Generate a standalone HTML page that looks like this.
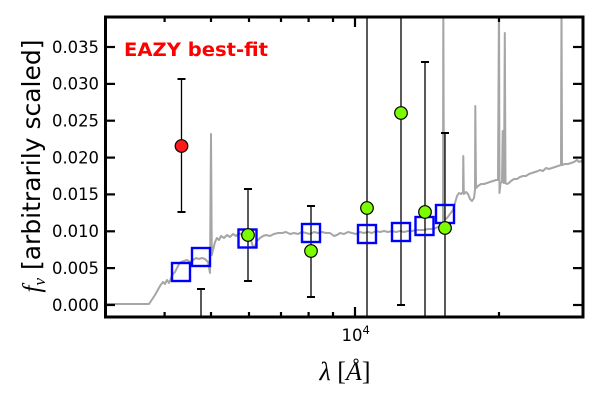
<!DOCTYPE html>
<html><head><meta charset="utf-8"><style>
html,body{margin:0;padding:0;background:#fff;}
svg{display:block;}
</style></head><body>
<svg width="600" height="400" viewBox="0 0 600 400" xmlns="http://www.w3.org/2000/svg">
<defs><clipPath id="ax"><rect x="105" y="17" width="478" height="300"/></clipPath></defs>
<rect width="600" height="400" fill="#fff"/>
<g clip-path="url(#ax)">
<polyline fill="none" stroke="#a6a6a6" stroke-width="2" stroke-linejoin="round" points="105,304 149,304 155,295 160,286 163,282 165,284 167,280 169,283 171,278 173,274 175,272 177,268 179,264 181,262 184,261 187,260 190,262 193,260 196,258 199,259 202,258 205,259 208,262 210,273 211,134 211.8,255 213,250 215,242 217,238 219,240 221,236 224,238 227,235 230,237 233,234 236,236 239,233 242,235 245,233 248,236 251,240 253,247 255,246 257,241 260,238 263,236 266,235 270,236 274,234 278,233 282,233 286,232 290,234 294,233 298,234 302,232 306,233 310,234 314,232 318,233 322,232 326,233 330,233 334,236 337,235 340,233 344,234 348,232 352,233 356,234 360,232 364,233 368,232 372,233 376,231 380,232 384,231 388,232 392,231 396,232 400,231 404,232 408,231 412,231 416,230 420,230 424,230 428,229 432,229 436,228 440,226 443,222 443.3,0 444,220 447,218 450,214 453,210 455,203 457,196 459,193 461,194 463,192 463.3,156 463.8,194 466,192 468,194 470,199 472,201 474,198 475,190 475.3,106 476,188 478,186 481,184 484,184 487,183 490,182 493,181 496,180 498,180 499,0 499.5,193 500.5,183 502,182 502.7,131 503.3,182 504,183 504.8,33 505.5,183 507,184 509,183 511,181 514,179 517,179 520,177 523,176 526,176 529,174 532,173 535,172 538,171 540,170 543,171 546,168 549,169 552,168 555,167 558,166 561,165 561.5,0 562,165 565,164 568,164 571,163 574,162 577,160 579,162 581,161 583,163"/>
<g stroke="#000" stroke-width="1.3" fill="none">
<line x1="181.5" y1="79" x2="181.5" y2="212"/>
<line x1="201" y1="289" x2="201" y2="330"/>
<line x1="248" y1="189" x2="248" y2="281"/>
<line x1="311" y1="206" x2="311" y2="297"/>
<line x1="367" y1="0" x2="367" y2="330"/>
<line x1="401" y1="0" x2="401" y2="305"/>
<line x1="425" y1="62" x2="425" y2="330"/>
<line x1="445" y1="133" x2="445" y2="330"/>
</g>
<g stroke="#000" stroke-width="2" fill="none">
<line x1="177.5" y1="79" x2="185.5" y2="79"/><line x1="177.5" y1="212" x2="185.5" y2="212"/>
<line x1="197" y1="289" x2="205" y2="289"/>
<line x1="244" y1="189" x2="252" y2="189"/><line x1="244" y1="281" x2="252" y2="281"/>
<line x1="307" y1="206" x2="315" y2="206"/><line x1="307" y1="297" x2="315" y2="297"/>
<line x1="397" y1="305" x2="405" y2="305"/>
<line x1="421" y1="62" x2="429" y2="62"/>
<line x1="441" y1="133" x2="449" y2="133"/>
</g>
<g stroke="#0000ff" stroke-width="2.4" fill="none">
<rect x="172" y="263" width="18" height="18"/>
<rect x="192" y="248" width="18" height="18"/>
<rect x="238.5" y="229.5" width="18" height="18"/>
<rect x="302" y="224" width="18" height="18"/>
<rect x="358" y="225" width="18" height="18"/>
<rect x="392" y="223" width="18" height="18"/>
<rect x="415.5" y="217" width="18" height="18"/>
<rect x="436" y="205" width="18" height="18"/>
</g>
<g stroke="#000" stroke-width="1.2">
<circle cx="181.5" cy="146" r="6.3" fill="#ff1a1a"/>
<circle cx="248" cy="235" r="6.3" fill="#7cfc00"/>
<circle cx="311" cy="251" r="6.3" fill="#7cfc00"/>
<circle cx="367" cy="208" r="6.3" fill="#7cfc00"/>
<circle cx="401" cy="113" r="6.3" fill="#7cfc00"/>
<circle cx="425" cy="212" r="6.3" fill="#7cfc00"/>
<circle cx="445" cy="228" r="6.3" fill="#7cfc00"/>
</g>
</g>
<!-- ticks -->
<g stroke="#000" stroke-width="2.2">
<line x1="105" y1="305" x2="115" y2="305"/><line x1="583" y1="305" x2="573" y2="305"/>
<line x1="105" y1="268.1" x2="115" y2="268.1"/><line x1="583" y1="268.1" x2="573" y2="268.1"/>
<line x1="105" y1="231.3" x2="115" y2="231.3"/><line x1="583" y1="231.3" x2="573" y2="231.3"/>
<line x1="105" y1="194.4" x2="115" y2="194.4"/><line x1="583" y1="194.4" x2="573" y2="194.4"/>
<line x1="105" y1="157.6" x2="115" y2="157.6"/><line x1="583" y1="157.6" x2="573" y2="157.6"/>
<line x1="105" y1="120.7" x2="115" y2="120.7"/><line x1="583" y1="120.7" x2="573" y2="120.7"/>
<line x1="105" y1="83.9" x2="115" y2="83.9"/><line x1="583" y1="83.9" x2="573" y2="83.9"/>
<line x1="105" y1="47" x2="115" y2="47"/><line x1="583" y1="47" x2="573" y2="47"/>
<line x1="355" y1="317" x2="355" y2="307"/><line x1="355" y1="17" x2="355" y2="27"/>
<line x1="164.6" y1="317" x2="164.6" y2="312"/><line x1="164.6" y1="17" x2="164.6" y2="22"/>
<line x1="211" y1="317" x2="211" y2="312"/><line x1="211" y1="17" x2="211" y2="22"/>
<line x1="249" y1="317" x2="249" y2="312"/><line x1="249" y1="17" x2="249" y2="22"/>
<line x1="281" y1="317" x2="281" y2="312"/><line x1="281" y1="17" x2="281" y2="22"/>
<line x1="308.6" y1="317" x2="308.6" y2="312"/><line x1="308.6" y1="17" x2="308.6" y2="22"/>
<line x1="333" y1="317" x2="333" y2="312"/><line x1="333" y1="17" x2="333" y2="22"/>
<line x1="499" y1="317" x2="499" y2="312"/><line x1="499" y1="17" x2="499" y2="22"/>
</g>
<rect x="105.5" y="17" width="477.5" height="300" fill="none" stroke="#000" stroke-width="3"/>
<!-- tick labels -->
<g font-family="DejaVu Sans, Liberation Sans, sans-serif" font-size="16.5" fill="#000">
<text x="52" y="310.8" textLength="47" lengthAdjust="spacingAndGlyphs">0.000</text>
<text x="52" y="273.9" textLength="47" lengthAdjust="spacingAndGlyphs">0.005</text>
<text x="52" y="237.1" textLength="47" lengthAdjust="spacingAndGlyphs">0.010</text>
<text x="52" y="200.2" textLength="47" lengthAdjust="spacingAndGlyphs">0.015</text>
<text x="52" y="163.4" textLength="47" lengthAdjust="spacingAndGlyphs">0.020</text>
<text x="52" y="126.5" textLength="47" lengthAdjust="spacingAndGlyphs">0.025</text>
<text x="52" y="89.7" textLength="47" lengthAdjust="spacingAndGlyphs">0.030</text>
<text x="52" y="52.8" textLength="47" lengthAdjust="spacingAndGlyphs">0.035</text>
</g>
<text x="341.5" y="341" font-family="DejaVu Sans, Liberation Sans, sans-serif" font-size="16.5" fill="#000">10<tspan font-size="11.5" dy="-7">4</tspan></text>
<text x="124" y="56" font-family="DejaVu Sans, Liberation Sans, sans-serif" font-weight="bold" font-size="18.5" fill="#ff0000" textLength="144" lengthAdjust="spacingAndGlyphs">EAZY best-fit</text>
<text x="345" y="380" text-anchor="middle" font-family="Liberation Serif, DejaVu Serif, serif" font-size="26" fill="#000"><tspan font-style="italic">λ</tspan> [<tspan font-style="italic">Å</tspan>]</text>
<text transform="translate(40,166) rotate(-90)" text-anchor="middle" font-family="DejaVu Sans, Liberation Sans, sans-serif" font-size="25" fill="#000"><tspan font-family="Liberation Serif, serif" font-style="italic">f</tspan><tspan font-family="Liberation Serif, serif" font-style="italic" font-size="17" dy="5">ν</tspan><tspan dy="-5"> [arbitrarily scaled]</tspan></text>
</svg>
</body></html>
